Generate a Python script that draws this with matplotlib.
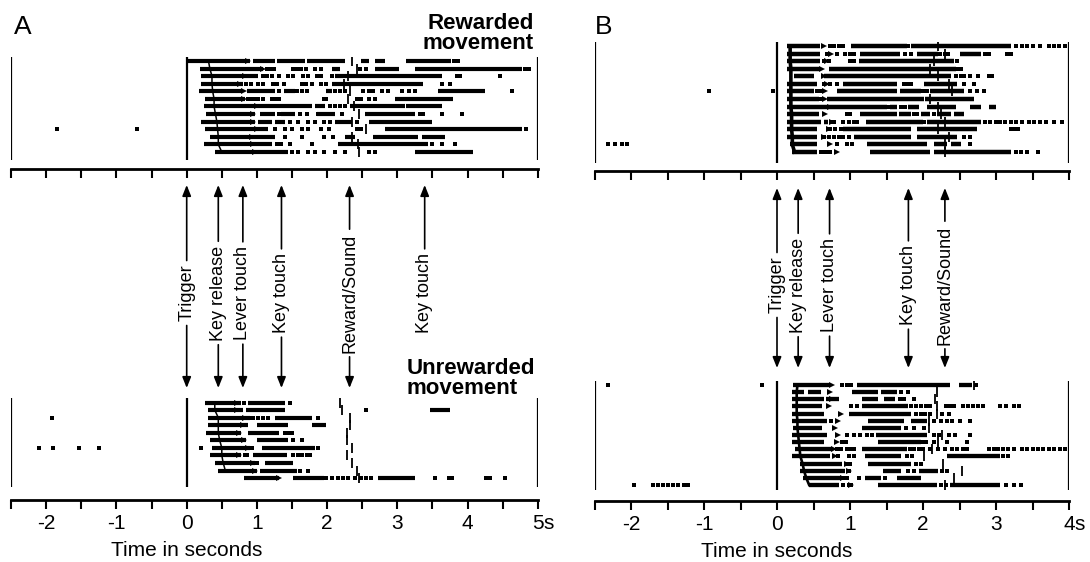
import numpy as np
import matplotlib
matplotlib.use("Agg")
import matplotlib.pyplot as plt

plt.rcParams['font.family'] = ['Liberation Sans', 'DejaVu Sans']

nan = np.nan

# =========================================================================== #
# Panel A, rewarded movement (one list per trial, times in s)
# =========================================================================== #
a_top_bars = [
    [(0.02, 0.90), (0.94, 1.26), (1.28, 1.69), (1.72, 2.26), (2.49, 2.59), (2.68, 2.83), (3.13, 3.77)],
    [(0.19, 1.08), (2.07, 2.18), (2.68, 3.02), (3.25, 4.77)],
    [(0.21, 1.02), (2.11, 3.63)],
    [(0.21, 0.80), (2.07, 3.37)],
    [(0.17, 0.78), (0.86, 1.26), (1.38, 1.54), (1.99, 2.07), (3.58, 4.25)],
    [(0.26, 0.83), (2.97, 3.80)],
    [(0.24, 1.78), (1.83, 1.97), (2.33, 3.11), (3.13, 3.63)],
    [(0.28, 0.97), (1.04, 1.26), (1.35, 1.54), (1.85, 2.11), (2.54, 3.25)],
    [(0.21, 0.97), (1.02, 1.21), (1.26, 1.40), (2.11, 2.35), (2.59, 3.49)],
    [(0.26, 1.16), (2.83, 4.77)],
    [(0.33, 1.09), (1.09, 1.26), (2.25, 2.40), (2.66, 3.30), (3.35, 3.68)],
    [(0.24, 1.02), (1.02, 1.21), (2.16, 3.44)],
    [(0.40, 0.97), (0.97, 1.45), (3.25, 4.08)],
]
a_top_dots = [
    [3.81, 3.86],
    [1.14, 1.19, 1.25, 1.52, 1.57, 1.63, 1.70, 1.83, 1.92, 2.47, 2.56, 4.82, 4.87],
    [1.08, 1.14, 1.21, 1.31, 1.45, 1.52, 1.66, 1.73, 1.85, 1.92, 2.07, 3.85, 3.90, 4.46],
    [0.85, 0.92, 1.02, 1.08, 1.23, 1.28, 1.38, 1.64, 1.70, 1.78, 1.92, 1.99, 3.63, 3.75],
    [1.31, 1.57, 1.64, 1.71, 2.11, 2.18, 2.25, 2.51, 2.59, 2.66, 2.78, 2.87, 3.06, 3.16, 3.25, 4.63],
    [0.88, 0.93, 0.97, 1.02, 1.09, 1.21, 1.26, 1.31, 1.95, 1.99, 2.42, 2.49, 2.59, 2.68],
    [2.04, 2.11, 2.18, 2.26],
    [1.31, 1.61, 1.71, 1.87, 1.94, 2.04, 2.21, 3.32, 3.37, 3.63, 3.92],
    [1.47, 1.59, 1.73, 1.83, 1.95, 2.04, 2.42],
    [-1.85, -0.71, 1.26, 1.40, 1.50, 1.64, 1.73, 1.92, 2.02, 2.42, 2.49, 4.84],
    [1.40, 1.64, 1.95, 2.09],
    [1.28, 1.35, 1.47, 1.78, 3.49, 3.63, 3.82],
    [1.50, 1.59, 1.73, 1.83, 1.95, 2.11, 2.25, 2.59, 2.68],
]
a_top_key_release = [0.31, 0.33, 0.36, 0.36, 0.37, 0.39, 0.39, 0.41, 0.43, 0.44, 0.45, 0.45, 0.50]
a_top_lever = [0.88, 1.08, 0.83, 0.76, 0.82, 0.81, 1.00, 0.95, 0.95, 1.00, 0.93, 0.95, 0.97]
a_top_reward = [2.35, 2.43, 2.30, 2.24, 2.33, 2.30, 2.38, 2.45, 2.35, 2.56, 2.35, 2.44, 2.45]

# Panel A, unrewarded movement
a_bot_bars = [
    [(0.26, 0.78), (0.88, 1.40)],
    [(0.31, 0.80), (0.84, 1.40), (3.47, 3.75)],
    [(0.31, 0.90), (1.26, 1.78)],
    [(0.31, 0.88), (1.00, 1.45), (1.78, 1.99)],
    [(0.28, 0.78), (0.88, 1.31)],
    [(0.33, 0.85), (1.00, 1.45)],
    [(0.36, 0.90), (1.07, 1.83)],
    [(0.33, 0.78), (0.95, 1.43)],
    [(0.40, 0.97), (1.12, 1.52)],
    [(0.45, 1.00), (1.04, 1.57)],
    [(0.81, 1.31), (1.52, 1.95), (2.73, 3.25)],
]
a_bot_dots = [
    [0.81, 1.47],
    [2.56],
    [-1.92, 0.90, 0.95, 1.02, 1.09, 1.16, 1.87],
    [],
    [1.40, 1.45, 1.50],
    [1.52, 1.64],
    [-2.11, -1.90, -1.54, -1.25, 0.21, 0.93, 1.87],
    [0.83, 0.86, 1.52, 1.59, 1.64, 1.71, 1.76],
    [1.00],
    [1.62, 1.73],
    [1.99, 2.07, 2.16, 2.23, 2.30, 2.40, 2.49, 2.56, 2.63, 3.54, 3.73, 3.78, 4.27, 4.32, 4.53],
]
a_bot_key_release = [0.40, 0.40, 0.45, 0.45, 0.45, 0.47, 0.50, 0.50, 0.52, 0.55, nan]
a_bot_lever = [0.71, 0.71, 0.83, 0.80, 0.74, 0.81, 0.88, 0.74, 0.95, 0.97, 1.31]
a_bot_reward = [2.18, 2.21, 2.33, 2.33, 2.28, 2.28, 2.35, 2.28, 2.35, 2.42, 2.45]

# =========================================================================== #
# Panel B, rewarded movement
# =========================================================================== #
b_top_bars = [
    [(0.14, 0.59), (1.01, 1.78), (1.83, 3.20)],
    [(0.14, 0.59), (1.14, 1.69), (1.92, 2.20), (2.50, 2.80)],
    [(0.14, 0.59), (1.12, 2.42)],
    [(0.14, 0.57), (0.71, 2.45)],
    [(0.23, 0.50), (0.64, 2.38)],
    [(0.14, 0.55), (0.91, 1.65), (2.01, 2.47)],
    [(0.14, 0.50), (0.82, 1.65), (1.69, 1.97), (2.10, 2.56)],
    [(0.14, 0.57), (0.69, 2.01), (2.03, 2.70)],
    [(0.14, 1.50), (1.55, 1.65), (1.80, 1.95), (2.05, 2.45), (2.65, 2.80), (2.90, 3.00)],
    [(0.14, 0.57), (1.14, 1.65), (1.67, 1.83), (1.97, 2.10), (2.19, 2.38), (2.42, 2.56)],
    [(0.14, 0.60), (0.64, 0.70), (1.22, 2.00), (2.05, 2.80)],
    [(0.14, 0.55), (0.91, 1.83), (1.92, 2.74)],
    [(0.14, 0.55), (1.05, 1.83), (1.92, 2.47)],
    [(0.18, 0.55), (1.23, 2.05), (2.15, 2.33), (2.38, 2.52)],
    [(0.20, 0.55), (1.28, 2.10), (2.15, 3.20)],
]
b_top_dots = [
    [0.73, 0.78, 0.85, 0.91, 1.80, 3.27, 3.35, 3.43, 3.50, 3.60, 3.72, 3.80, 3.86, 3.95],
    [0.69, 0.82, 0.93, 1.00, 1.05, 1.75, 1.83, 2.23, 2.30, 2.34, 2.85, 2.90, 3.15, 3.20],
    [0.64, 0.71, 1.00, 1.05, 2.47],
    [2.47, 2.52],
    [2.45, 2.52, 2.56, 2.65, 2.75, 2.90, 2.95],
    [0.64, 0.73, 0.82, 1.74, 1.78, 1.83, 2.56, 2.70],
    [-0.93, -0.05, 0.55, 0.60, 2.00, 2.05, 2.65, 2.74, 2.83],
    [0.60],
    [1.52, 1.70, 1.76],
    [0.96, 1.00, 1.88, 1.92, 2.15],
    [0.75, 0.78, 0.90, 0.98, 1.05, 1.10, 2.02, 2.85, 2.92, 3.00, 3.05, 3.12, 3.20, 3.27, 3.35, 3.45,
     3.52, 3.60, 3.68, 3.80, 3.90],
    [0.73, 0.80, 0.87, 3.20, 3.25, 3.30],
    [0.64, 0.71, 0.78, 0.85, 0.91, 0.98, 2.56, 2.65],
    [-2.31, -2.22, -2.12, -2.05, 0.82, 0.96, 1.03, 2.65],
    [0.60, 0.64, 0.69, 0.73, 3.27, 3.34, 3.43, 3.57],
]
b_top_key_release = [0.18, 0.18, 0.18, 0.19, 0.19, 0.19, 0.19, 0.19, 0.19, 0.20, 0.20, 0.20, 0.21, 0.21, 0.24]
b_top_lever = [0.64, 0.74, 0.68, 0.62, 0.64, 0.69, 0.66, 0.66, 0.73, 0.66, 0.75, 0.71, 0.64, 0.73, 0.82]
b_top_reward = [2.20, 2.30, 2.15, 2.10, 2.20, 2.35, 2.40, 2.10, 2.20, 2.25, 2.30, 2.20, 2.35, 2.30, 2.30]

# Panel B, unrewarded movement
b_bot_bars = [
    [(0.22, 0.71), (1.09, 2.37), (2.49, 2.67)],
    [(0.20, 0.37), (0.42, 0.60), (1.03, 1.39), (1.43, 1.65)],
    [(0.20, 0.64), (0.67, 0.85), (1.16, 1.38), (1.47, 1.61)],
    [(0.20, 0.62), (1.16, 1.79)],
    [(0.20, 0.64), (0.98, 1.84)],
    [(0.20, 0.69), (1.25, 1.74), (1.83, 2.06)],
    [(0.22, 0.62), (1.16, 1.70)],
    [(0.20, 0.69), (1.36, 2.06)],
    [(0.20, 0.64), (1.38, 1.97)],
    [(0.24, 0.76), (1.16, 1.78)],
    [(0.20, 0.73), (1.20, 1.70), (2.33, 3.05)],
    [(0.31, 0.89), (1.25, 1.84)],
    [(0.31, 0.93), (1.45, 1.70), (1.95, 2.20)],
    [(0.35, 0.87), (1.20, 1.43), (1.65, 1.97)],
    [(0.44, 0.85), (1.38, 2.19), (2.37, 3.05)],
]
b_bot_dots = [
    [-2.31, -0.20, 0.89, 0.96, 1.02, 2.72],
    [1.70, 1.79],
    [1.68, 1.74, 1.88],
    [1.02, 1.09, 1.83, 1.90, 1.97, 2.04, 2.10, 2.31, 2.37, 2.42, 2.55, 2.62, 2.69, 2.75, 2.82, 3.05,
     3.14, 3.25, 3.32],
    [1.90, 1.97, 2.03, 2.10, 2.26, 2.35],
    [0.74, 2.15, 2.24, 2.33, 2.40, 2.51, 2.64],
    [1.77, 1.88, 2.01],
    [0.96, 1.05, 1.14, 1.23, 1.30, 2.15, 2.22, 2.35, 2.44, 2.64],
    [0.89, 0.95, 2.00, 2.04, 2.15, 2.33, 2.60],
    [0.82, 0.88, 0.96, 1.00, 1.05, 1.82, 1.88, 1.95, 2.00, 2.10, 2.20, 2.30, 2.40, 2.47, 2.55, 2.60,
     2.90, 2.97, 3.03, 3.10, 3.17, 3.24, 3.35, 3.42, 3.50, 3.57, 3.65, 3.72, 3.80, 3.88, 3.95],
    [0.84, 0.98, 1.05, 1.78, 1.85, 3.09, 3.16],
    [0.94, 1.00, 1.90, 1.97],
    [0.98, 1.80, 1.88, 2.26, 2.33],
    [0.92, 0.96, 1.12, 1.48],
    [-1.96, -1.70, -1.63, -1.56, -1.49, -1.42, -1.35, -1.28, -1.22, 0.91, 0.98, 1.02, 2.24, 2.31,
     3.14, 3.25, 3.34],
]
b_bot_key_release = [0.28, 0.27, 0.27, 0.27, 0.27, 0.28, 0.28, 0.29, 0.30, 0.31, 0.32, 0.35, 0.37, 0.40, 0.44]
b_bot_lever = [0.75, 0.72, 0.75, 0.71, 0.87, 0.84, 0.80, 0.84, 0.82, 0.78, 0.80, 0.96, 0.98, 0.91, 1.02]
b_bot_reward = [2.70, 2.19, 2.17, 2.19, 2.19, 2.08, 2.08, 2.26, 2.20, 2.12, 2.01, 2.28, 2.53, 2.42, 2.30]

# Event labels between the rasters
a_events = ["Trigger", "Key release", "Lever touch", "Key touch", "Reward/Sound", "Key touch"]
a_event_t = [0.0, 0.45, 0.80, 1.35, 2.32, 3.39]
a_event_down = [True, True, True, True, True, False]
b_events = ["Trigger", "Key release", "Lever touch", "Key touch", "Reward/Sound"]
b_event_t = [0.0, 0.29, 0.72, 1.80, 2.30]
b_event_down = [True, True, True, True, True]

# Axis
a_xlim = (-2.5, 5.0)
b_xlim = (-2.5, 4.0)
a_ticks = np.arange(-2.5, 5.01, 0.5)
b_ticks = np.arange(-2.5, 4.01, 0.5)

# =========================================================================== #
W, H = 1090, 562
fig = plt.figure(figsize=(W / 100, H / 100), dpi=100)


def px_axes(x0, x1, y0, y1):
    ax = fig.add_axes([x0 / W, 1 - y1 / H, (x1 - x0) / W, (y1 - y0) / H])
    ax.patch.set_visible(False)
    for s in ax.spines.values():
        s.set_visible(False)
    ax.set_yticks([])
    ax.set_xticks([])
    return ax


def raster(ax, bars, dots, kr, lever, reward, xlim, ylim, vspan, kr_lw, bar_lw):
    rows = np.arange(len(bars))
    for i, row in enumerate(bars):
        ax.hlines([i] * len(row), [s for s, e in row], [e for s, e in row],
                  color='k', lw=bar_lw)
    for i, row in enumerate(dots):
        ax.plot(row, [i] * len(row), 's', color='k', ms=2.8, mew=0)
    ax.plot(kr, rows, color='k', lw=kr_lw)
    ax.plot(lever, rows, '>', color='k', ms=4.5, mew=0)
    ax.plot(reward, rows, '|', color='k', ms=7.5, mew=1.3)
    ax.vlines([xlim[0], 0, xlim[1]], vspan[0], vspan[1], color='k', lw=1.6)
    ax.set_xlim(*xlim)
    ax.set_ylim(*ylim)


def events(ax, names, times, down, y_top, y_bot, y_mid, ticks, xlim, ylim):
    ax.set_xlim(*xlim)
    ax.set_ylim(*ylim)
    ax.spines['top'].set_visible(True)
    ax.spines['top'].set_linewidth(2)
    ax.xaxis.set_ticks_position('top')
    ax.set_xticks(ticks)
    ax.tick_params(axis='x', direction='in', length=6.5, width=1.5, labeltop=False, labelbottom=False)
    ap = dict(arrowstyle='-|>,head_length=0.5,head_width=0.2', color='k', lw=1.2,
              shrinkA=1, shrinkB=0)
    for name, t, d in zip(names, times, down):
        ax.annotate(name, xy=(t, y_top), xytext=(t, y_mid), rotation=90,
                    ha='center', va='center', fontsize=13, arrowprops=ap)
        if d:
            ax.annotate(name, xy=(t, y_bot), xytext=(t, y_mid), rotation=90,
                        ha='center', va='center', fontsize=13, color='none', arrowprops=ap)


def time_axis(ax, ticks, xlim):
    ax.spines['bottom'].set_visible(True)
    ax.spines['bottom'].set_linewidth(2)
    labels = [("%d" % t if float(t).is_integer() else "") for t in ticks]
    ax.set_xticks(ticks, labels)
    ax.tick_params(axis='x', direction='out', length=6.5, width=1.5, pad=3.5, labelsize=15)
    ax.annotate("s", xy=(xlim[1], 0), xycoords=('data', 'axes fraction'),
                xytext=(4.2, -10), textcoords='offset points', ha='left', va='top', fontsize=15)
    ax.annotate("Time in seconds", xy=(0, 0), xycoords=('data', 'axes fraction'),
                xytext=(0, -29.5), textcoords='offset points', ha='center', va='top', fontsize=15)


# Panel A
ax = px_axes(11.2, 537.7, 57, 160)
raster(ax, a_top_bars, a_top_dots, a_top_key_release, a_top_lever, a_top_reward,
       a_xlim, (13.06, -0.53), (-0.53, 13.06), 1.1, 3.0)
ax = px_axes(11.2, 537.7, 169, 398)
events(ax, a_events, a_event_t, a_event_down, 185, 388, 293, a_ticks, a_xlim, (398, 169))
ax = px_axes(11.2, 537.7, 398, 500)
raster(ax, a_bot_bars, a_bot_dots, a_bot_key_release, a_bot_lever, a_bot_reward,
       a_xlim, (12.9, -0.6), (-0.6, 11.2), 1.1, 3.0)
time_axis(ax, a_ticks, a_xlim)

# Panel B
ax = px_axes(594.5, 1069, 42, 163)
raster(ax, b_top_bars, b_top_dots, b_top_key_release, b_top_lever, b_top_reward,
       b_xlim, (15.45, -0.53), (-0.53, 15.45), 2.6, 3.2)
ax = px_axes(594.5, 1069, 171, 381)
events(ax, b_events, b_event_t, b_event_down, 188, 368, 285, b_ticks, b_xlim, (381, 171))
ax = px_axes(594.5, 1069, 381, 501)
raster(ax, b_bot_bars, b_bot_dots, b_bot_key_release, b_bot_lever, b_bot_reward,
       b_xlim, (16.25, -0.56), (-0.56, 14.7), 1.9, 3.1)
time_axis(ax, b_ticks, b_xlim)

fig.text(14 / W, 1 - 34 / H, "A", fontsize=19, va='baseline')
fig.text(595 / W, 1 - 34 / H, "B", fontsize=19, va='baseline')
fig.text(534 / W, 1 - 13 / H, "Rewarded\nmovement", fontsize=16, fontweight='bold',
         ha='right', va='top', multialignment='right', linespacing=0.95)
fig.text(407 / W, 1 - 358 / H, "Unrewarded\nmovement", fontsize=16, fontweight='bold',
         ha='left', va='top', linespacing=0.95)

fig.savefig("out.png", dpi=100)
